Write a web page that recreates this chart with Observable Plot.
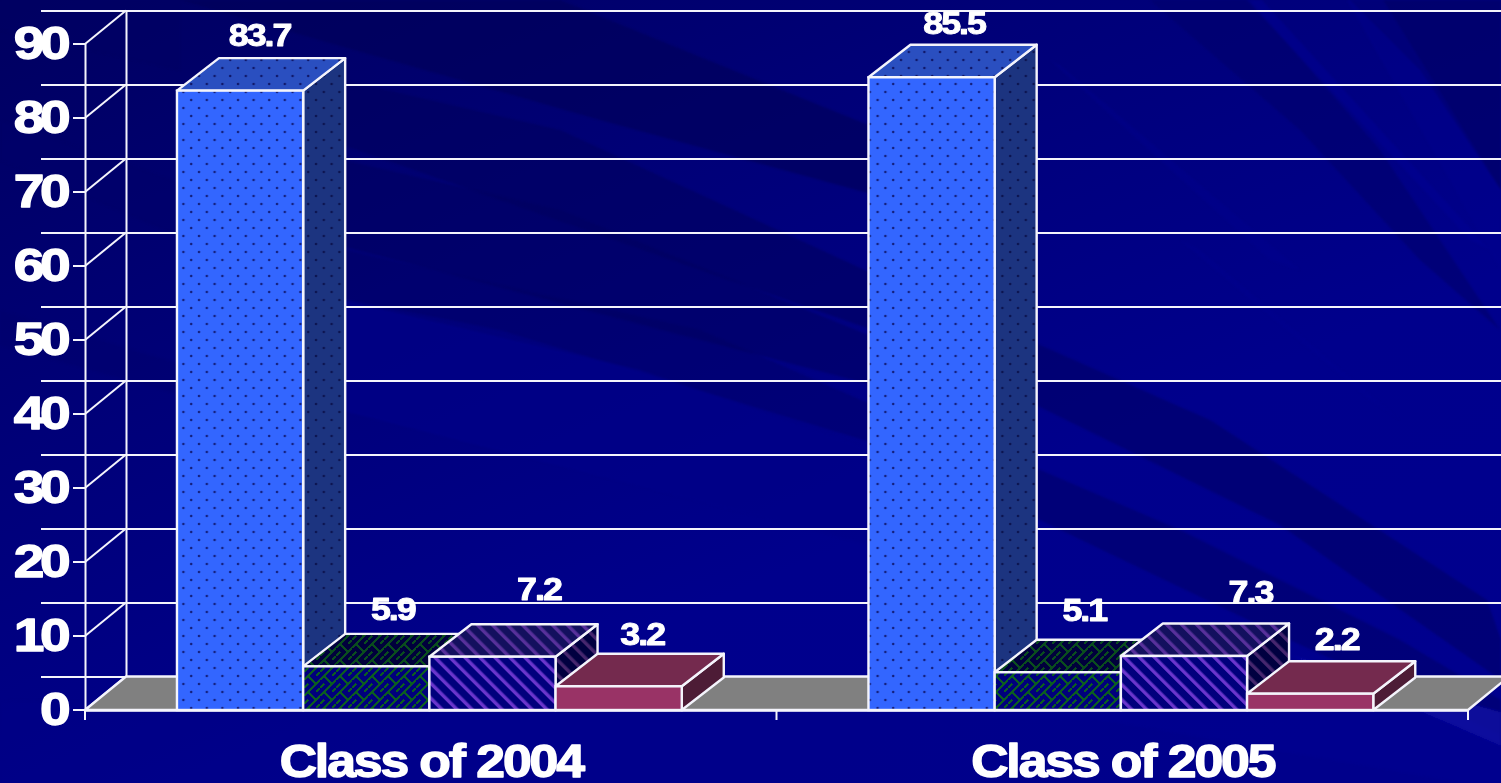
<!DOCTYPE html>
<html><head><meta charset="utf-8">
<script src="https://cdn.jsdelivr.net/npm/d3@7"></script>
<script src="https://cdn.jsdelivr.net/npm/@observablehq/plot@0.6"></script>
<style>
html,body{margin:0;padding:0;width:1501px;height:783px;overflow:hidden;background:#000080}
#wall,#chart{position:absolute;left:0;top:0}
#chart svg{display:block}
</style></head><body>
<svg id="wall" width="1501" height="783"></svg>
<div id="chart"></div>
<script>
const groups = ["Class of 2004", "Class of 2005"];
const seriesIds = ["blue", "green", "purple", "red"];
const values2004 = [83.7, 5.9, 7.2, 3.2];
const values2005 = [85.5, 5.1, 7.3, 2.2];
const yTicks = [0, 10, 20, 30, 40, 50, 60, 70, 80, 90];
const labelNudge2004 = [[20,-55],[27,-57],[47,-67],[24,-52]];
const labelNudge2005 = [[23,-54],[27,-62],[67,-64],[27,-54]];

const DX = 41, DY = -33.5, BAR_DX = 42, BAR_DY = -32.5;
const pad = 0.133, bw = 0.1825;
const rows = [values2004, values2005].flatMap((vals, g) => vals.map((v, s) => ({
  group: groups[g], series: seriesIds[s], value: v,
  x1: g + pad + s * bw, x2: g + pad + (s + 1) * bw,
  nudge: (g ? labelNudge2005 : labelNudge2004)[s]
})));

/* background streaks */
const wall = d3.select("#wall");
const wdefs = wall.append("defs");
const lg = wdefs.append("linearGradient").attr("id","bg").attr("x1","0").attr("y1","0").attr("x2","0.8").attr("y2","1");
[[0,"#000060"],[0.35,"#000078"],[0.7,"#00008c"],[1,"#00008e"]].forEach(([o,c])=>lg.append("stop").attr("offset",o).attr("stop-color",c));
wdefs.append("filter").attr("id","soft").append("feGaussianBlur").attr("stdDeviation",1.2);
wall.append("rect").attr("width",1501).attr("height",783).attr("fill","url(#bg)");
const streaks = [
 ["#000058",.6,"180,0 560,0 930,150 930,210 600,120"],
 ["#00005c",.55,"300,70 560,130 930,300 930,350 300,130"],
 ["#00005e",.5,"300,150 560,210 930,360 930,400 300,235"],
 ["#000060",.4,"300,240 700,330 930,430 930,460 500,330 300,290"],
 ["#000088",.7,"300,290 640,370 930,470 930,560 300,400"],
 ["#000060",.5,"930,300 1040,345 1210,420 1487,600 1501,640 1501,680 1280,525 1040,407 930,360"],
 ["#000062",.5,"930,430 1040,470 1180,530 1400,640 1501,700 1501,735 1290,640 1040,520 930,480"],
 ["#000066",.7,"1350,0 1501,0 1501,190 1420,70"],
 ["#00006c",.6,"1150,0 1250,0 1380,150 1500,330 1420,260 1300,130"],
 ["#000094",.5,"1247,0 1262,0 1490,250 1470,240"],
 ["#000090",.35,"1347,0 1383,0 1501,190 1501,270"],
 ["#000092",.3,"1050,60 1060,65 1300,270 1270,260"],
 ["#000092",.3,"1180,240 1200,250 1400,420 1370,400"],
 ["#0a0a9e",.9,"1290,655 1501,712 1501,746"],
 ["#000062",.5,"0,0 180,0 180,70 0,30"],
 ["#000068",.5,"0,120 200,190 200,245 0,160"],
 ["#00006c",.4,"0,310 200,370 200,400 0,345"],
 ["#000088",.35,"0,700 1100,720 1501,790 0,790"]
];
wall.append("g").attr("filter","url(#soft)").selectAll("polygon").data(streaks).join("polygon")
  .attr("fill",d=>d[0]).attr("opacity",d=>d[1]).attr("points",d=>d[2]);

/* faces per series */
const faceFill = {
  blue:   {front:"url(#dotFront)", top:"url(#dotTop)", side:"url(#dotSide)"},
  green:  {front:"url(#weaveFront)", top:"url(#weaveTop)", side:"url(#weaveTop)"},
  purple: {front:"url(#stripeFront)", top:"url(#stripeTop)", side:"url(#stripeSide)"},
  red:    {front:"#993366", top:"#742a4e", side:"#4d1c36"}
};
const LINE = "#f4f4fc";
const poly = (g, pts, fill, sw = 2.4) => g.append("polygon").attr("points", pts.map(p => p.join(",")).join(" "))
  .attr("fill", fill).attr("stroke", LINE).attr("stroke-width", sw).attr("stroke-linejoin", "round");
const seg = (g, a, b, sw = 2) => g.append("line").attr("x1", a[0]).attr("y1", a[1]).attr("x2", b[0]).attr("y2", b[1])
  .attr("stroke", LINE).attr("stroke-width", sw);

const frame = (index, {x, y}) => {
  const g = d3.create("svg:g");
  yTicks.forEach(t => {
    seg(g, [x(0) - 12, y(t)], [x(0), y(t)]);
    seg(g, [x(0), y(t)], [x(0) + DX, y(t) + DY]);
  });
  poly(g, [[x(0), y(0)], [x(0) + DX, y(0) + DY], [x(2) + DX, y(0) + DY], [x(2), y(0)]], "#808080");
  [0, 1, 2].forEach(i => seg(g, [x(i), y(0)], [x(i), y(0) + 10]));
  return g.node();
};
const solids = (index, {x, y}) => {
  const g = d3.create("svg:g");
  rows.forEach(d => {
    const a = x(d.x1), b = x(d.x2), t = y(d.value), z = y(0), f = faceFill[d.series];
    poly(g, [[b, z], [b + BAR_DX, z + BAR_DY], [b + BAR_DX, t + BAR_DY], [b, t]], f.side);
    poly(g, [[a, t], [a + BAR_DX, t + BAR_DY], [b + BAR_DX, t + BAR_DY], [b, t]], f.top);
  });
  return g.node();
};

const textBase = {fill: "white", stroke: "white", fontFamily: "Liberation Sans, Arial, sans-serif", fontWeight: 700};

const plot = Plot.plot({
  width: 1501, height: 783, margin: 0,
  style: {background: "transparent"},
  x: {domain: [0, 2], range: [85, 1468], axis: null},
  y: {domain: [0, 90], range: [710, 44], axis: null},
  color: {type: "identity"},
  marks: [
    Plot.ruleY(yTicks, {y: d => d, dx: DX, dy: DY, stroke: LINE, strokeWidth: 2}),
    Plot.ruleX([0], {y1: 0, y2: 90, dx: DX, dy: DY, stroke: LINE, strokeWidth: 2}),
    Plot.ruleX([0], {y1: 0, y2: 90, stroke: LINE, strokeWidth: 2}),
    frame,
    Plot.ruleY([0], {x1: 0, x2: 2, stroke: LINE, strokeWidth: 2.5}),
    solids,
    Plot.rect(rows, {x1: "x1", x2: "x2", y1: 0, y2: "value", fill: d => faceFill[d.series].front, stroke: LINE, strokeWidth: 2.4}),
    Plot.text(yTicks, {...textBase, x: () => 0, y: d => d, text: d => String(d), textAnchor: "end", dx: -19, fontSize: 46, strokeWidth: 1.3}),
    ...rows.map(d => Plot.text([d], {...textBase, x: r => (r.x1 + r.x2) / 2, y: "value", text: r => r.value.toFixed(1), dx: d.nudge[0] - 1, dy: d.nudge[1], fontSize: 32, strokeWidth: 1})),
    Plot.text(groups, {...textBase, x: (d, i) => i + 0.5, y: () => 0, text: d => d, dx: 0, dy: 51, fontSize: 47, strokeWidth: 1.4})
  ]
});

const defs = d3.select(plot).insert("defs", ":first-child");
function dots(id, bg, dot) {
  const p = defs.append("pattern").attr("id", id).attr("patternUnits", "userSpaceOnUse").attr("width", 15.6).attr("height", 16);
  p.append("rect").attr("width", 15.6).attr("height", 16).attr("fill", bg);
  p.append("circle").attr("cx", 4).attr("cy", 4).attr("r", 1.3).attr("fill", dot);
  p.append("circle").attr("cx", 11.8).attr("cy", 12).attr("r", 1.3).attr("fill", dot);
}
dots("dotFront", "#3366ff", "#14207e");
dots("dotTop", "#2a4fc0", "#10186a");
dots("dotSide", "#1c3480", "#0c1450");
function weave(id, bg, c) {
  const p = defs.append("pattern").attr("id", id).attr("patternUnits", "userSpaceOnUse").attr("width", 16).attr("height", 16);
  p.append("rect").attr("width", 16).attr("height", 16).attr("fill", bg);
  p.append("path").attr("fill", "none").attr("stroke", c).attr("stroke-width", 2).attr("shape-rendering", "crispEdges")
   .attr("d", "M0 8L8 0M8 16L16 8M4 4L12 12M0 16L4 12M12 4L16 0");
}
weave("weaveFront", "#00007c", "#0b5c22");
weave("weaveTop", "#00003c", "#0a4c1e");
function stripe(id, bg, c) {
  const p = defs.append("pattern").attr("id", id).attr("patternUnits", "userSpaceOnUse").attr("width", 10.6).attr("height", 10.6).attr("patternTransform", "rotate(-45)");
  p.append("rect").attr("width", 10.6).attr("height", 10.6).attr("fill", bg);
  p.append("rect").attr("width", 3.4).attr("height", 10.6).attr("fill", c);
}
stripe("stripeFront", "#00007c", "#6a35cc");
stripe("stripeTop", "#13105e", "#57309a");
stripe("stripeSide", "#000040", "#46266e");

/* the original's glyphs are widened and set tight */
d3.select(plot).selectAll("g[font-size]").each(function () {
  const fs = +this.getAttribute("font-size");
  const [sx, sp] = fs === 46 ? [1.2, -3.6] : fs === 32 ? [1.12, -1.8] : [1.1, -1.9];
  d3.select(this).selectAll("text").each(function () {
    const e = d3.select(this), t = e.attr("transform") || "";
    e.attr("transform", `${t} scale(${sx},1)`).style("letter-spacing", `${sp}px`);
  });
});

document.getElementById("chart").append(plot);
</script></body></html>
